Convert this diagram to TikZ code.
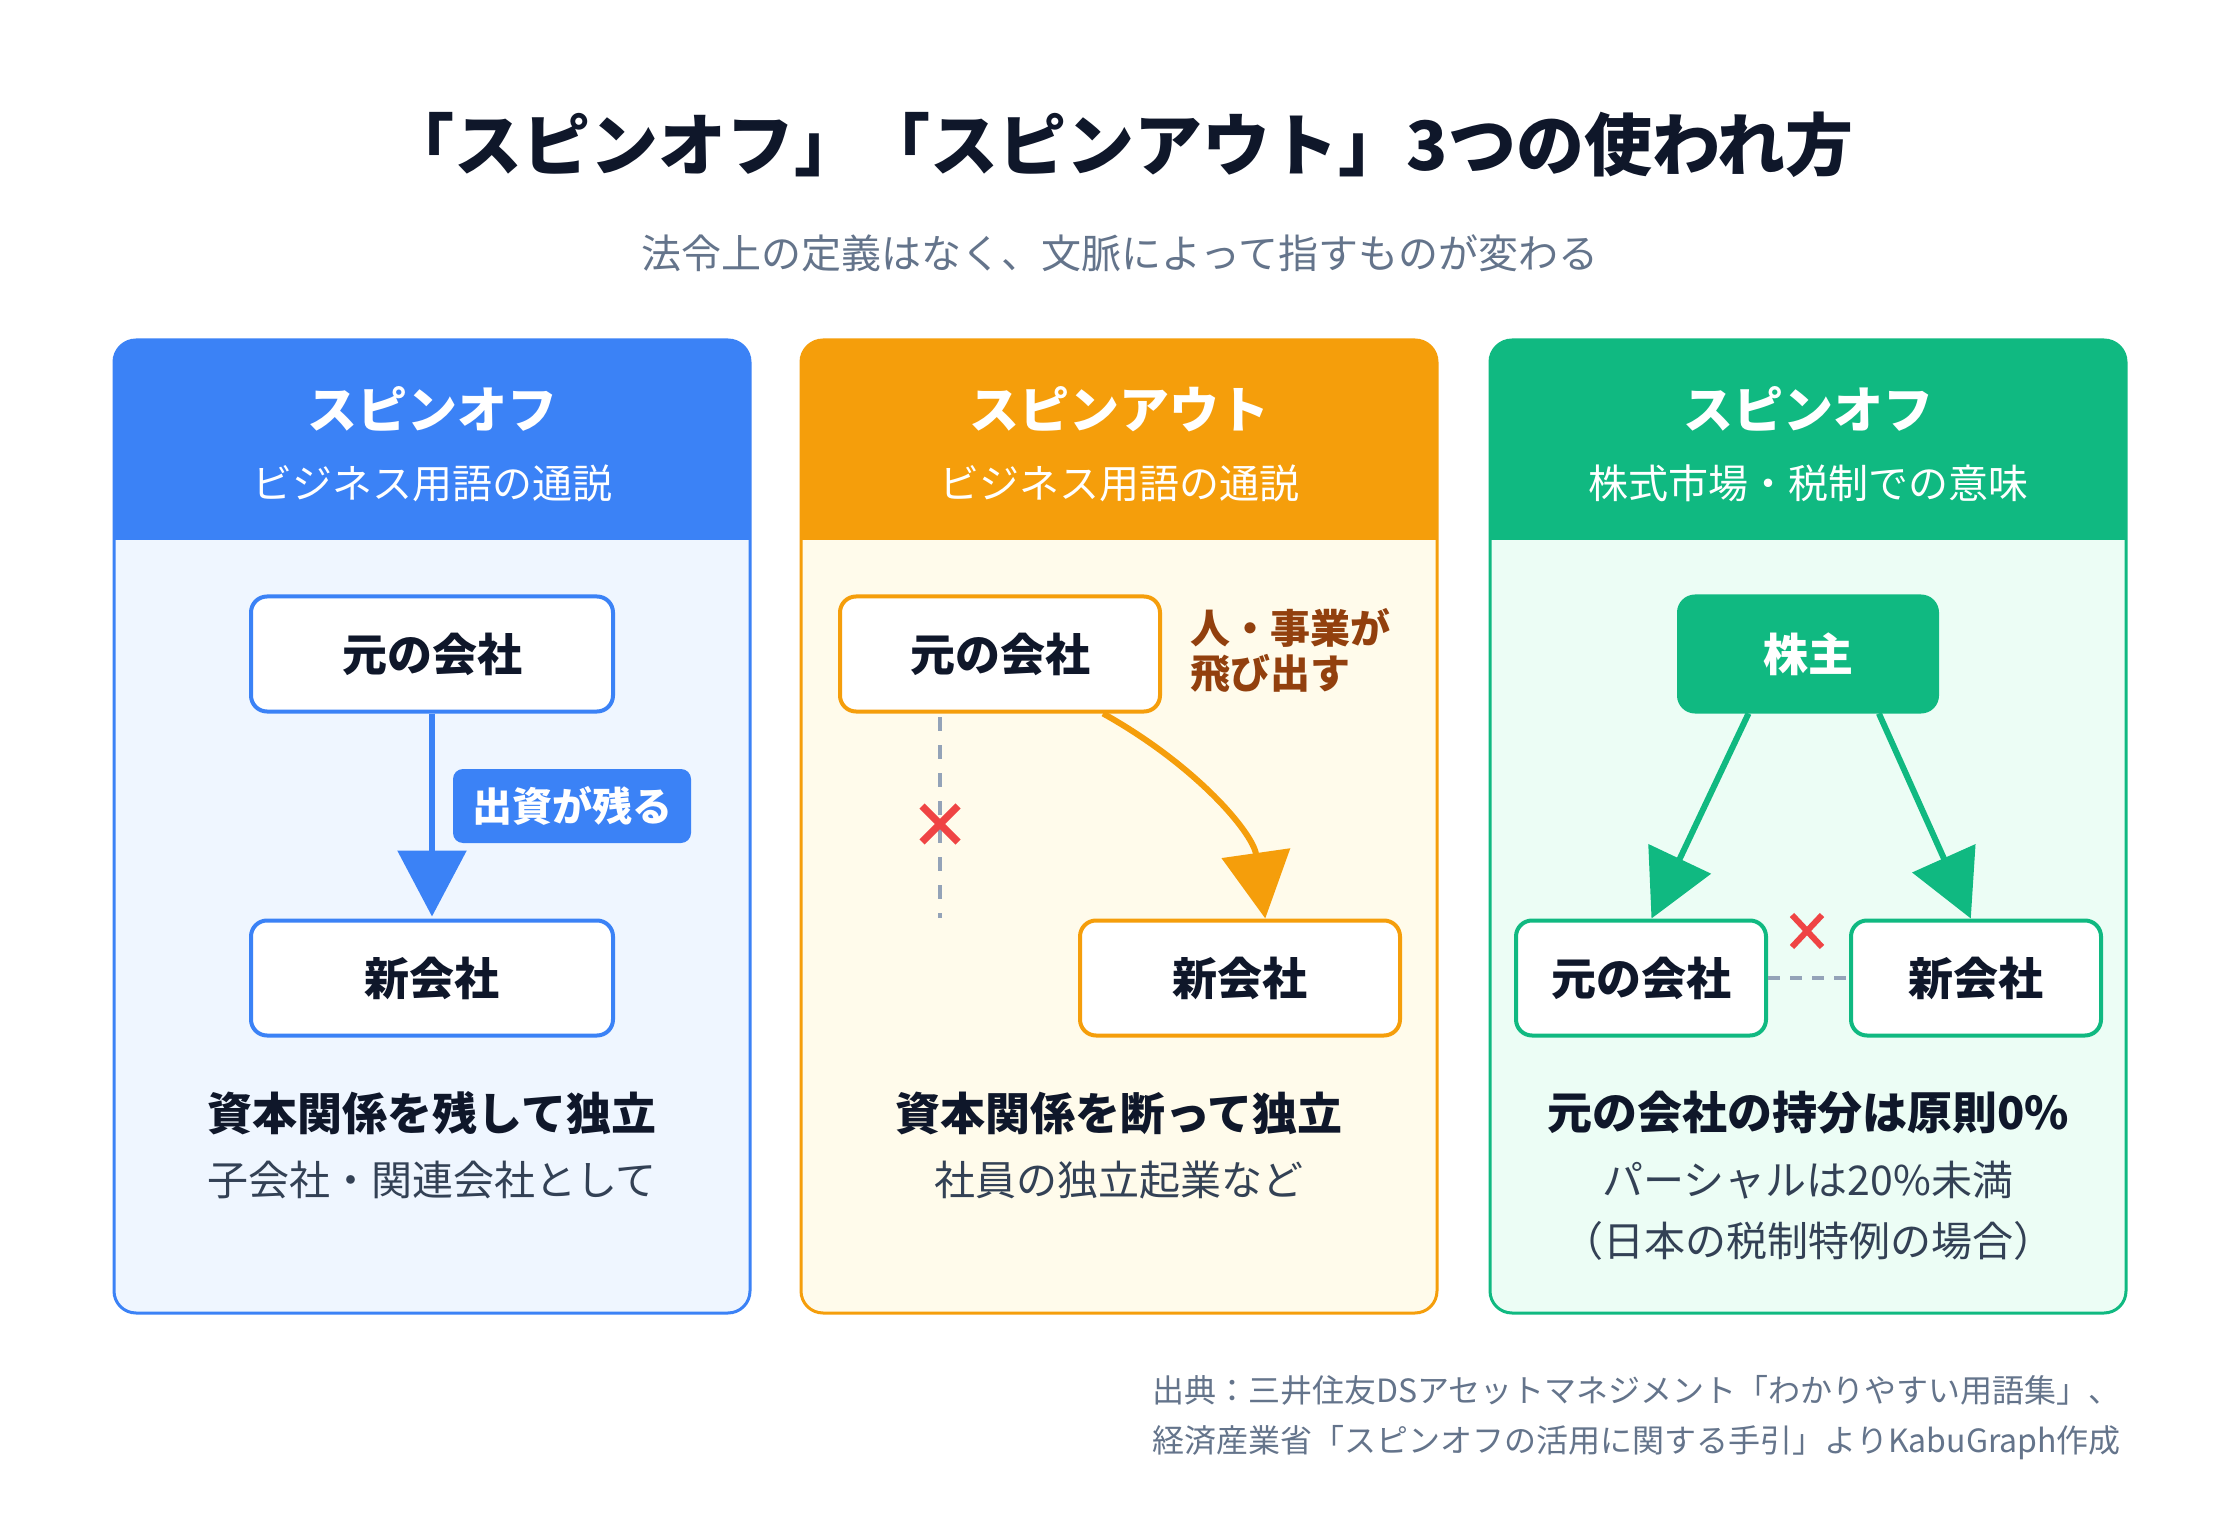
\documentclass[tikz,border=0pt]{standalone}
\usepackage{fontspec}
\setmainfont{Noto Sans CJK JP}
\usetikzlibrary{arrows.meta}
\definecolor{ink}{HTML}{0F172A}
\definecolor{slate}{HTML}{64748B}
\definecolor{slated}{HTML}{334155}
\definecolor{cblue}{HTML}{3B82F6}
\definecolor{bgblue}{HTML}{EFF6FF}
\definecolor{corange}{HTML}{F59E0B}
\definecolor{bgorange}{HTML}{FFFBEB}
\definecolor{cgreen}{HTML}{10B981}
\definecolor{bggreen}{HTML}{ECFDF5}
\definecolor{cgray}{HTML}{94A3B8}
\definecolor{cred}{HTML}{EF4444}
\definecolor{cbrown}{HTML}{92400E}
\newcommand\mypanel[3]{%
  \begin{scope}
    \clip[rounded corners=11pt] (#1,340) rectangle (#1+636,1313);
    \fill[#3] (#1,340) rectangle (#1+636,1313);
    \fill[#2] (#1,340) rectangle (#1+636,540);
  \end{scope}
  \draw[#2, line width=1.5pt, rounded corners=11pt] (#1,340) rectangle (#1+636,1313);
}
\begin{document}
\begin{tikzpicture}[x=0.5pt,y=-0.5pt,
  cobox/.style={draw, fill=white, line width=2pt, rounded corners=8pt,
    minimum height=57.5pt, inner sep=0pt, text=ink,
    font=\fontsize{22.5}{26}\selectfont\bfseries},
  hdtitle/.style={text=white, font=\fontsize{25}{30}\selectfont\bfseries},
  hdsub/.style={text=white, font=\fontsize{20}{24}\selectfont},
  mainline/.style={text=ink, font=\fontsize{22.5}{27}\selectfont\bfseries},
  subline/.style={text=slated, font=\fontsize{20.5}{25}\selectfont},
  bigarrow/.style={line width=3pt, -{Triangle[width=34pt,length=33pt]}},
  nolink/.style={cgray, line width=2.2pt, dash pattern=on 7pt off 7pt},
  xmark/.style={cred, line width=3.6pt},
]
\useasboundingbox (0,0) rectangle (2240,1540);
\fill[white] (0,0) rectangle (2240,1540);

% title
\node[text=ink, font=\fontsize{34}{40}\selectfont\bfseries] (title) at (1120,145)
  {「スピンオフ」「スピンアウト」3つの使われ方};
\node[text=slate, font=\fontsize{20}{24}\selectfont] (subtitle) at (1120,253)
  {法令上の定義はなく、文脈によって指すものが変わる};

% panels
\mypanel{114}{cblue}{bgblue}
\mypanel{801}{corange}{bgorange}
\mypanel{1490}{cgreen}{bggreen}

% headers
\node[hdtitle] (h1) at (432,409) {スピンオフ};
\node[hdsub] (s1) at (432,483) {ビジネス用語の通説};
\node[hdtitle] (h2) at (1119,409) {スピンアウト};
\node[hdsub] (s2) at (1119,483) {ビジネス用語の通説};
\node[hdtitle] (h3) at (1808,409) {スピンオフ};
\node[hdsub] (s3) at (1808,483) {株式市場・税制での意味};

% panel 1
\node[cobox, draw=cblue, minimum width=181pt] (p1a) at (432,654) {元の会社};
\node[cobox, draw=cblue, minimum width=181pt] (p1b) at (432,978) {新会社};
\draw[bigarrow, cblue] (p1a.south) -- ([yshift=1pt]p1b.north);
\node[fill=cblue, rounded corners=5pt, minimum width=119pt, minimum height=37pt,
  inner sep=0pt, text=white, font=\fontsize{20}{24}\selectfont\bfseries]
  (lbl1) at (572,806) {出資が残る};
\node[mainline] (m1) at (432,1113) {資本関係を残して独立};
\node[subline] (u1) at (432,1180) {子会社・関連会社として};

% panel 2
\node[cobox, draw=corange, minimum width=160pt] (p2a) at (1000,654) {元の会社};
\node[cobox, draw=corange, minimum width=160pt] (p2b) at (1240,978) {新会社};
\node[anchor=west, align=left, text=cbrown,
  font=\fontsize{20}{22.5}\selectfont\bfseries] (lbl2) at (1183,651)
  {人・事業が\\飛び出す};
\draw[bigarrow, corange] (p2a.-30) .. controls (1197,766) and (1253,833) .. (p2b.67);
\coordinate (d2a) at (940,717);
\coordinate (d2b) at (940,918);
\draw[nolink] (d2a) -- (d2b);
\coordinate (x2) at (940,824);
\draw[xmark] ([shift={(-18,-18)}]x2) -- ([shift={(18,18)}]x2)
             ([shift={(-18,18)}]x2) -- ([shift={(18,-18)}]x2);
\node[mainline] (m2) at (1119,1113) {資本関係を断って独立};
\node[subline] (u2) at (1119,1180) {社員の独立起業など};

% panel 3
\node[cobox, draw=cgreen, fill=cgreen, text=white, minimum width=129pt] (p3s) at (1808,654) {株主};
\node[cobox, draw=cgreen, minimum width=125pt] (p3a) at (1641,978) {元の会社};
\node[cobox, draw=cgreen, minimum width=125pt] (p3b) at (1976,978) {新会社};
\draw[bigarrow, cgreen] (p3s.-135) -- (p3a.80);
\draw[bigarrow, cgreen] (p3s.-40) -- (p3b.95);
\draw[nolink, dash pattern=on 6pt off 5pt] (p3a.east) -- (p3b.west);
\coordinate (x3) at (1807,931);
\draw[xmark, line width=3pt] ([shift={(-15,-16)}]x3) -- ([shift={(15,16)}]x3)
             ([shift={(-15,16)}]x3) -- ([shift={(15,-16)}]x3);
\node[mainline] (m3) at (1808,1113) {元の会社の持分は原則0\%};
\node[subline] (u3) at (1808,1180) {パーシャルは20\%未満};
\node[subline] (v3) at (1808,1241) {（日本の税制特例の場合）};

% footer
\node[anchor=east, align=right, text=slate, font=\fontsize{16}{25}\selectfont]
  (src) at (2128,1418)
  {出典：三井住友DSアセットマネジメント「わかりやすい用語集」、\\
   経済産業省「スピンオフの活用に関する手引」よりKabuGraph作成};
\end{tikzpicture}
\end{document}
